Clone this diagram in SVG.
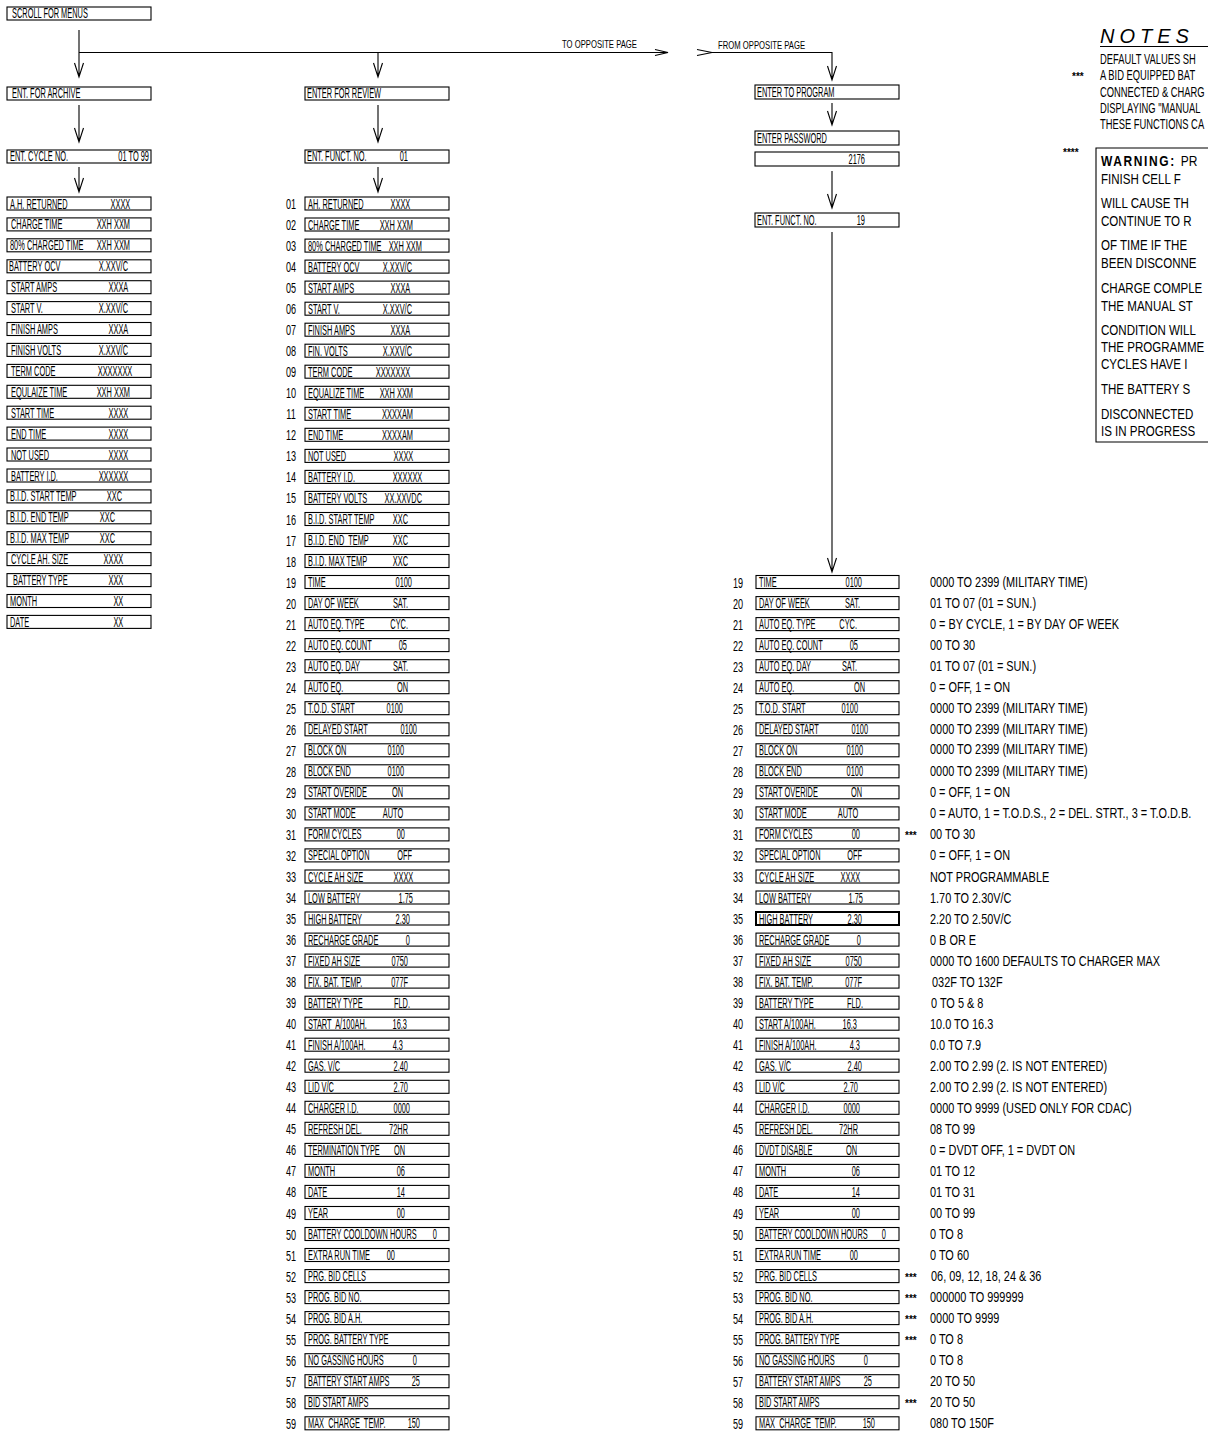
<svg xmlns="http://www.w3.org/2000/svg" width="1208" height="1435" viewBox="0 0 1208 1435">
<style>
.b{fill:none;stroke:#000;stroke-width:1.1}
.b2{fill:none;stroke:#000;stroke-width:2}
.c{fill:none;stroke:#000;stroke-width:1.1}
text{font-family:"Liberation Sans",Arial,sans-serif;fill:#000;white-space:pre;transform-box:fill-box}
.t{font-size:14px;transform:scale(.53,1);transform-origin:0 50%}
.v{font-size:14px;text-anchor:end;transform:scale(.53,1);transform-origin:100% 50%}
.n{font-size:14px;text-anchor:middle;transform:scale(.65,1);transform-origin:50% 50%}
.d{font-size:14px;transform:scale(.78,1);transform-origin:0 50%}
.m{font-size:10px;font-weight:bold}
.s{font-size:11px;transform:scale(.7,1);transform-origin:0 50%}
.nt{font-size:14px;transform:scale(.67,1);transform-origin:0 50%}
.w{font-size:15px;transform:scale(.77,1);transform-origin:0 50%}
.wb{font-size:15px;font-weight:bold;letter-spacing:2px;transform:scale(.8,1);transform-origin:0 50%}
.hd{font-size:20px;font-style:italic;letter-spacing:5px}
</style>
<rect width="1208" height="1435" fill="#fff"/>

<g id="connectors">
<path class="c" d="M79 30V77M74.5 63L79 77L83.5 63"/>
<path class="c" d="M79 52.5H668M655 49.5L668 52.5L655 55.5"/>
<path class="c" d="M378 52.5V77M373.5 63L378 77L382.5 63"/>
<path class="c" d="M79 105V142M74.5 128L79 142L83.5 128"/>
<path class="c" d="M378 105V142M373.5 128L378 142L382.5 128"/>
<path class="c" d="M79 167V192M74.5 178L79 192L83.5 178"/>
<path class="c" d="M378 167V192M373.5 178L378 192L382.5 178"/>
<path class="c" d="M697 49.5L712 52.5L697 55.5M712 52.5H832V80M827.5 66L832 80L836.5 66"/>
<path class="c" d="M832 103V125M827.5 111L832 125L836.5 111"/>
<path class="c" d="M832 171V208M827.5 194L832 208L836.5 194"/>
<path class="c" d="M832 232V572M827.5 558L832 572L836.5 558"/>
</g>

<g id="labels">
<text class="s" x="562" y="48">TO OPPOSITE PAGE</text>
<text class="s" x="718" y="49">FROM OPPOSITE PAGE</text>
</g>

<g id="scroll"><rect class="b" x="7" y="7" width="144" height="13"/><text class="t" x="12" y="18.5">SCROLL FOR MENUS</text></g>
<g id="archive"><rect class="b" x="7" y="87" width="144" height="13"/><text class="t" x="12" y="98.5">ENT. FOR ARCHIVE</text></g>
<g id="cycle"><rect class="b" x="7" y="150" width="144" height="13"/><text class="t" x="10" y="161.5">ENT. CYCLE NO.</text><text class="v" x="149" y="161.5">01 TO 99</text></g>
<g id="review"><rect class="b" x="305" y="87" width="144" height="13"/><text class="t" x="307" y="98.5">ENTER FOR REVIEW</text></g>
<g id="functm"><rect class="b" x="305" y="150" width="144" height="13"/><text class="t" x="307" y="161.5">ENT. FUNCT. NO.</text><text class="v" x="408" y="161.5">01</text></g>
<g id="program"><rect class="b" x="755" y="85" width="144" height="14"/><text class="t" x="757" y="97.5">ENTER TO PROGRAM</text></g>
<g id="password"><rect class="b" x="755" y="131" width="144" height="14"/><text class="t" x="757" y="143.5">ENTER PASSWORD</text></g>
<g id="pwvalue"><rect class="b" x="755" y="152" width="144" height="14"/><text class="v" x="865" y="164.5">2176</text></g>
<g id="functr"><rect class="b" x="755" y="213" width="144" height="14"/><text class="t" x="757" y="225.5">ENT. FUNCT. NO.</text><text class="v" x="865" y="225.5">19</text></g>

<g id="archive-list">
<g id="a01" transform="translate(0,197)"><rect class="b" x="7" width="144" height="13"/><text class="t" x="10" y="11.5">A.H. RETURNED</text><text class="v" x="130" y="11.5">XXXX</text></g>
<g id="a02" transform="translate(0,217.9)"><rect class="b" x="7" width="144" height="13"/><text class="t" x="11" y="11.5">CHARGE TIME</text><text class="v" x="130" y="11.5">XXH XXM</text></g>
<g id="a03" transform="translate(0,238.8)"><rect class="b" x="7" width="144" height="13"/><text class="t" x="10" y="11.5">80% CHARGED TIME</text><text class="v" x="130" y="11.5">XXH XXM</text></g>
<g id="a04" transform="translate(0,259.8)"><rect class="b" x="7" width="144" height="13"/><text class="t" x="9" y="11.5">BATTERY OCV</text><text class="v" x="128" y="11.5">X.XXV/C</text></g>
<g id="a05" transform="translate(0,280.7)"><rect class="b" x="7" width="144" height="13"/><text class="t" x="11" y="11.5">START AMPS</text><text class="v" x="128" y="11.5">XXXA</text></g>
<g id="a06" transform="translate(0,301.6)"><rect class="b" x="7" width="144" height="13"/><text class="t" x="11" y="11.5">START V.</text><text class="v" x="128" y="11.5">X.XXV/C</text></g>
<g id="a07" transform="translate(0,322.5)"><rect class="b" x="7" width="144" height="13"/><text class="t" x="11" y="11.5">FINISH AMPS</text><text class="v" x="128" y="11.5">XXXA</text></g>
<g id="a08" transform="translate(0,343.4)"><rect class="b" x="7" width="144" height="13"/><text class="t" x="11" y="11.5">FINISH VOLTS</text><text class="v" x="128" y="11.5">X.XXV/C</text></g>
<g id="a09" transform="translate(0,364.4)"><rect class="b" x="7" width="144" height="13"/><text class="t" x="11" y="11.5">TERM CODE</text><text class="v" x="132" y="11.5">XXXXXXX</text></g>
<g id="a10" transform="translate(0,385.3)"><rect class="b" x="7" width="144" height="13"/><text class="t" x="11" y="11.5">EQULAIZE TIME</text><text class="v" x="130" y="11.5">XXH XXM</text></g>
<g id="a11" transform="translate(0,406.2)"><rect class="b" x="7" width="144" height="13"/><text class="t" x="11" y="11.5">START TIME</text><text class="v" x="128" y="11.5">XXXX</text></g>
<g id="a12" transform="translate(0,427.1)"><rect class="b" x="7" width="144" height="13"/><text class="t" x="11" y="11.5">END TIME</text><text class="v" x="128" y="11.5">XXXX</text></g>
<g id="a13" transform="translate(0,448)"><rect class="b" x="7" width="144" height="13"/><text class="t" x="11" y="11.5">NOT USED</text><text class="v" x="128" y="11.5">XXXX</text></g>
<g id="a14" transform="translate(0,469)"><rect class="b" x="7" width="144" height="13"/><text class="t" x="11" y="11.5">BATTERY I.D.</text><text class="v" x="128" y="11.5">XXXXXX</text></g>
<g id="a15" transform="translate(0,489.9)"><rect class="b" x="7" width="144" height="13"/><text class="t" x="10" y="11.5">B.I.D. START TEMP</text><text class="v" x="122" y="11.5">XXC</text></g>
<g id="a16" transform="translate(0,510.8)"><rect class="b" x="7" width="144" height="13"/><text class="t" x="10" y="11.5">B.I.D. END TEMP</text><text class="v" x="115" y="11.5">XXC</text></g>
<g id="a17" transform="translate(0,531.7)"><rect class="b" x="7" width="144" height="13"/><text class="t" x="10" y="11.5">B.I.D. MAX TEMP</text><text class="v" x="115" y="11.5">XXC</text></g>
<g id="a18" transform="translate(0,552.6)"><rect class="b" x="7" width="144" height="13"/><text class="t" x="11" y="11.5">CYCLE AH. SIZE</text><text class="v" x="123" y="11.5">XXXX</text></g>
<g id="a19" transform="translate(0,573.6)"><rect class="b" x="7" width="144" height="13"/><text class="t" x="13" y="11.5">BATTERY TYPE</text><text class="v" x="123" y="11.5">XXX</text></g>
<g id="a20" transform="translate(0,594.5)"><rect class="b" x="7" width="144" height="13"/><text class="t" x="10" y="11.5">MONTH</text><text class="v" x="123" y="11.5">XX</text></g>
<g id="a21" transform="translate(0,615.4)"><rect class="b" x="7" width="144" height="13"/><text class="t" x="10" y="11.5">DATE</text><text class="v" x="123" y="11.5">XX</text></g>
</g>

<g id="review-list">
<g id="m01" transform="translate(0,197)"><text class="n" x="291" y="12">01</text><rect class="b" x="305" width="144" height="13"/><text class="t" x="308" y="11.5">AH. RETURNED</text><text class="v" x="410" y="11.5">XXXX</text></g>
<g id="m02" transform="translate(0,218)"><text class="n" x="291" y="12">02</text><rect class="b" x="305" width="144" height="13"/><text class="t" x="308" y="11.5">CHARGE TIME</text><text class="v" x="413" y="11.5">XXH XXM</text></g>
<g id="m03" transform="translate(0,239.1)"><text class="n" x="291" y="12">03</text><rect class="b" x="305" width="144" height="13"/><text class="t" x="308" y="11.5">80% CHARGED TIME</text><text class="v" x="422" y="11.5">XXH XXM</text></g>
<g id="m04" transform="translate(0,260.1)"><text class="n" x="291" y="12">04</text><rect class="b" x="305" width="144" height="13"/><text class="t" x="308" y="11.5">BATTERY OCV</text><text class="v" x="412" y="11.5">X.XXV/C</text></g>
<g id="m05" transform="translate(0,281.1)"><text class="n" x="291" y="12">05</text><rect class="b" x="305" width="144" height="13"/><text class="t" x="308" y="11.5">START AMPS</text><text class="v" x="410" y="11.5">XXXA</text></g>
<g id="m06" transform="translate(0,302.2)"><text class="n" x="291" y="12">06</text><rect class="b" x="305" width="144" height="13"/><text class="t" x="308" y="11.5">START V.</text><text class="v" x="412" y="11.5">X.XXV/C</text></g>
<g id="m07" transform="translate(0,323.2)"><text class="n" x="291" y="12">07</text><rect class="b" x="305" width="144" height="13"/><text class="t" x="308" y="11.5">FINISH AMPS</text><text class="v" x="410" y="11.5">XXXA</text></g>
<g id="m08" transform="translate(0,344.2)"><text class="n" x="291" y="12">08</text><rect class="b" x="305" width="144" height="13"/><text class="t" x="308" y="11.5">FIN. VOLTS</text><text class="v" x="412" y="11.5">X.XXV/C</text></g>
<g id="m09" transform="translate(0,365.2)"><text class="n" x="291" y="12">09</text><rect class="b" x="305" width="144" height="13"/><text class="t" x="308" y="11.5">TERM CODE</text><text class="v" x="410" y="11.5">XXXXXXX</text></g>
<g id="m10" transform="translate(0,386.3)"><text class="n" x="291" y="12">10</text><rect class="b" x="305" width="144" height="13"/><text class="t" x="308" y="11.5">EQUALIZE TIME</text><text class="v" x="413" y="11.5">XXH XXM</text></g>
<g id="m11" transform="translate(0,407.3)"><text class="n" x="291" y="12">11</text><rect class="b" x="305" width="144" height="13"/><text class="t" x="308" y="11.5">START TIME</text><text class="v" x="413" y="11.5">XXXXAM</text></g>
<g id="m12" transform="translate(0,428.3)"><text class="n" x="291" y="12">12</text><rect class="b" x="305" width="144" height="13"/><text class="t" x="308" y="11.5">END TIME</text><text class="v" x="413" y="11.5">XXXXAM</text></g>
<g id="m13" transform="translate(0,449.4)"><text class="n" x="291" y="12">13</text><rect class="b" x="305" width="144" height="13"/><text class="t" x="308" y="11.5">NOT USED</text><text class="v" x="413" y="11.5">XXXX</text></g>
<g id="m14" transform="translate(0,470.4)"><text class="n" x="291" y="12">14</text><rect class="b" x="305" width="144" height="13"/><text class="t" x="308" y="11.5">BATTERY I.D.</text><text class="v" x="422" y="11.5">XXXXXX</text></g>
<g id="m15" transform="translate(0,491.4)"><text class="n" x="291" y="12">15</text><rect class="b" x="305" width="144" height="13"/><text class="t" x="308" y="11.5">BATTERY VOLTS</text><text class="v" x="422" y="11.5">XX.XXVDC</text></g>
<g id="m16" transform="translate(0,512.5)"><text class="n" x="291" y="12">16</text><rect class="b" x="305" width="144" height="13"/><text class="t" x="308" y="11.5">B.I.D. START TEMP</text><text class="v" x="408" y="11.5">XXC</text></g>
<g id="m17" transform="translate(0,533.5)"><text class="n" x="291" y="12">17</text><rect class="b" x="305" width="144" height="13"/><text class="t" x="308" y="11.5">B.I.D. END  TEMP</text><text class="v" x="408" y="11.5">XXC</text></g>
<g id="m18" transform="translate(0,554.5)"><text class="n" x="291" y="12">18</text><rect class="b" x="305" width="144" height="13"/><text class="t" x="308" y="11.5">B.I.D. MAX TEMP</text><text class="v" x="408" y="11.5">XXC</text></g>
<g id="m19" transform="translate(0,575.5)"><text class="n" x="291" y="12">19</text><rect class="b" x="305" width="144" height="13"/><text class="t" x="308" y="11.5">TIME</text><text class="v" x="412" y="11.5">0100</text></g>
<g id="m20" transform="translate(0,596.6)"><text class="n" x="291" y="12">20</text><rect class="b" x="305" width="144" height="13"/><text class="t" x="308" y="11.5">DAY OF WEEK</text><text class="v" x="408" y="11.5">SAT.</text></g>
<g id="m21" transform="translate(0,617.6)"><text class="n" x="291" y="12">21</text><rect class="b" x="305" width="144" height="13"/><text class="t" x="308" y="11.5">AUTO EQ. TYPE</text><text class="v" x="408" y="11.5">CYC.</text></g>
<g id="m22" transform="translate(0,638.6)"><text class="n" x="291" y="12">22</text><rect class="b" x="305" width="144" height="13"/><text class="t" x="308" y="11.5">AUTO EQ. COUNT</text><text class="v" x="407" y="11.5">05</text></g>
<g id="m23" transform="translate(0,659.7)"><text class="n" x="291" y="12">23</text><rect class="b" x="305" width="144" height="13"/><text class="t" x="308" y="11.5">AUTO EQ. DAY</text><text class="v" x="408" y="11.5">SAT.</text></g>
<g id="m24" transform="translate(0,680.7)"><text class="n" x="291" y="12">24</text><rect class="b" x="305" width="144" height="13"/><text class="t" x="308" y="11.5">AUTO EQ.</text><text class="v" x="408" y="11.5">ON</text></g>
<g id="m25" transform="translate(0,701.7)"><text class="n" x="291" y="12">25</text><rect class="b" x="305" width="144" height="13"/><text class="t" x="308" y="11.5">T.O.D. START</text><text class="v" x="403" y="11.5">0100</text></g>
<g id="m26" transform="translate(0,722.8)"><text class="n" x="291" y="12">26</text><rect class="b" x="305" width="144" height="13"/><text class="t" x="308" y="11.5">DELAYED START</text><text class="v" x="417" y="11.5">0100</text></g>
<g id="m27" transform="translate(0,743.8)"><text class="n" x="291" y="12">27</text><rect class="b" x="305" width="144" height="13"/><text class="t" x="308" y="11.5">BLOCK ON</text><text class="v" x="404" y="11.5">0100</text></g>
<g id="m28" transform="translate(0,764.8)"><text class="n" x="291" y="12">28</text><rect class="b" x="305" width="144" height="13"/><text class="t" x="308" y="11.5">BLOCK END</text><text class="v" x="404" y="11.5">0100</text></g>
<g id="m29" transform="translate(0,785.8)"><text class="n" x="291" y="12">29</text><rect class="b" x="305" width="144" height="13"/><text class="t" x="308" y="11.5">START OVERIDE</text><text class="v" x="403" y="11.5">ON</text></g>
<g id="m30" transform="translate(0,806.9)"><text class="n" x="291" y="12">30</text><rect class="b" x="305" width="144" height="13"/><text class="t" x="308" y="11.5">START MODE</text><text class="v" x="403" y="11.5">AUTO</text></g>
<g id="m31" transform="translate(0,827.9)"><text class="n" x="291" y="12">31</text><rect class="b" x="305" width="144" height="13"/><text class="t" x="308" y="11.5">FORM CYCLES</text><text class="v" x="405" y="11.5">00</text></g>
<g id="m32" transform="translate(0,848.9)"><text class="n" x="291" y="12">32</text><rect class="b" x="305" width="144" height="13"/><text class="t" x="308" y="11.5">SPECIAL OPTION</text><text class="v" x="412" y="11.5">OFF</text></g>
<g id="m33" transform="translate(0,870)"><text class="n" x="291" y="12">33</text><rect class="b" x="305" width="144" height="13"/><text class="t" x="308" y="11.5">CYCLE AH SIZE</text><text class="v" x="413" y="11.5">XXXX</text></g>
<g id="m34" transform="translate(0,891)"><text class="n" x="291" y="12">34</text><rect class="b" x="305" width="144" height="13"/><text class="t" x="308" y="11.5">LOW BATTERY</text><text class="v" x="413" y="11.5">1.75</text></g>
<g id="m35" transform="translate(0,912)"><text class="n" x="291" y="12">35</text><rect class="b" x="305" width="144" height="13"/><text class="t" x="308" y="11.5">HIGH BATTERY</text><text class="v" x="410" y="11.5">2.30</text></g>
<g id="m36" transform="translate(0,933.1)"><text class="n" x="291" y="12">36</text><rect class="b" x="305" width="144" height="13"/><text class="t" x="308" y="11.5">RECHARGE GRADE</text><text class="v" x="410" y="11.5">0</text></g>
<g id="m37" transform="translate(0,954.1)"><text class="n" x="291" y="12">37</text><rect class="b" x="305" width="144" height="13"/><text class="t" x="308" y="11.5">FIXED AH SIZE</text><text class="v" x="408" y="11.5">0750</text></g>
<g id="m38" transform="translate(0,975.1)"><text class="n" x="291" y="12">38</text><rect class="b" x="305" width="144" height="13"/><text class="t" x="308" y="11.5">FIX. BAT. TEMP.</text><text class="v" x="408" y="11.5">077F</text></g>
<g id="m39" transform="translate(0,996.2)"><text class="n" x="291" y="12">39</text><rect class="b" x="305" width="144" height="13"/><text class="t" x="308" y="11.5">BATTERY TYPE</text><text class="v" x="410" y="11.5">FLD.</text></g>
<g id="m40" transform="translate(0,1017.2)"><text class="n" x="291" y="12">40</text><rect class="b" x="305" width="144" height="13"/><text class="t" x="308" y="11.5">START  A/100AH.</text><text class="v" x="407" y="11.5">16.3</text></g>
<g id="m41" transform="translate(0,1038.2)"><text class="n" x="291" y="12">41</text><rect class="b" x="305" width="144" height="13"/><text class="t" x="308" y="11.5">FINISH A/100AH.</text><text class="v" x="403" y="11.5">4.3</text></g>
<g id="m42" transform="translate(0,1059.2)"><text class="n" x="291" y="12">42</text><rect class="b" x="305" width="144" height="13"/><text class="t" x="308" y="11.5">GAS. V/C</text><text class="v" x="408" y="11.5">2.40</text></g>
<g id="m43" transform="translate(0,1080.3)"><text class="n" x="291" y="12">43</text><rect class="b" x="305" width="144" height="13"/><text class="t" x="308" y="11.5">LID V/C</text><text class="v" x="408" y="11.5">2.70</text></g>
<g id="m44" transform="translate(0,1101.3)"><text class="n" x="291" y="12">44</text><rect class="b" x="305" width="144" height="13"/><text class="t" x="308" y="11.5">CHARGER I.D.</text><text class="v" x="410" y="11.5">0000</text></g>
<g id="m45" transform="translate(0,1122.3)"><text class="n" x="291" y="12">45</text><rect class="b" x="305" width="144" height="13"/><text class="t" x="308" y="11.5">REFRESH DEL.</text><text class="v" x="408" y="11.5">72HR</text></g>
<g id="m46" transform="translate(0,1143.4)"><text class="n" x="291" y="12">46</text><rect class="b" x="305" width="144" height="13"/><text class="t" x="308" y="11.5">TERMINATION TYPE</text><text class="v" x="405" y="11.5">ON</text></g>
<g id="m47" transform="translate(0,1164.4)"><text class="n" x="291" y="12">47</text><rect class="b" x="305" width="144" height="13"/><text class="t" x="308" y="11.5">MONTH</text><text class="v" x="405" y="11.5">06</text></g>
<g id="m48" transform="translate(0,1185.4)"><text class="n" x="291" y="12">48</text><rect class="b" x="305" width="144" height="13"/><text class="t" x="308" y="11.5">DATE</text><text class="v" x="405" y="11.5">14</text></g>
<g id="m49" transform="translate(0,1206.5)"><text class="n" x="291" y="12">49</text><rect class="b" x="305" width="144" height="13"/><text class="t" x="308" y="11.5">YEAR</text><text class="v" x="405" y="11.5">00</text></g>
<g id="m50" transform="translate(0,1227.5)"><text class="n" x="291" y="12">50</text><rect class="b" x="305" width="144" height="13"/><text class="t" x="308" y="11.5">BATTERY COOLDOWN HOURS</text><text class="v" x="437" y="11.5">0</text></g>
<g id="m51" transform="translate(0,1248.5)"><text class="n" x="291" y="12">51</text><rect class="b" x="305" width="144" height="13"/><text class="t" x="308" y="11.5">EXTRA RUN TIME</text><text class="v" x="395" y="11.5">00</text></g>
<g id="m52" transform="translate(0,1269.6)"><text class="n" x="291" y="12">52</text><rect class="b" x="305" width="144" height="13"/><text class="t" x="308" y="11.5">PRG. BID CELLS</text></g>
<g id="m53" transform="translate(0,1290.6)"><text class="n" x="291" y="12">53</text><rect class="b" x="305" width="144" height="13"/><text class="t" x="308" y="11.5">PROG. BID NO.</text></g>
<g id="m54" transform="translate(0,1311.6)"><text class="n" x="291" y="12">54</text><rect class="b" x="305" width="144" height="13"/><text class="t" x="308" y="11.5">PROG. BID A.H.</text></g>
<g id="m55" transform="translate(0,1332.6)"><text class="n" x="291" y="12">55</text><rect class="b" x="305" width="144" height="13"/><text class="t" x="308" y="11.5">PROG. BATTERY TYPE</text></g>
<g id="m56" transform="translate(0,1353.7)"><text class="n" x="291" y="12">56</text><rect class="b" x="305" width="144" height="13"/><text class="t" x="308" y="11.5">NO GASSING HOURS</text><text class="v" x="417" y="11.5">0</text></g>
<g id="m57" transform="translate(0,1374.7)"><text class="n" x="291" y="12">57</text><rect class="b" x="305" width="144" height="13"/><text class="t" x="308" y="11.5">BATTERY START AMPS</text><text class="v" x="420" y="11.5">25</text></g>
<g id="m58" transform="translate(0,1395.7)"><text class="n" x="291" y="12">58</text><rect class="b" x="305" width="144" height="13"/><text class="t" x="308" y="11.5">BID START AMPS</text></g>
<g id="m59" transform="translate(0,1416.8)"><text class="n" x="291" y="12">59</text><rect class="b" x="305" width="144" height="13"/><text class="t" x="308" y="11.5">MAX  CHARGE  TEMP.</text><text class="v" x="420" y="11.5">150</text></g>
</g>

<g id="program-list">
<g id="r19" transform="translate(0,575.5)"><text class="n" x="738" y="12">19</text><rect class="b" x="756" width="143" height="13"/><text class="t" x="759" y="11.5">TIME</text><text class="v" x="862" y="11.5">0100</text><text class="d" x="930" y="11.5">0000 TO 2399 (MILITARY TIME)</text></g>
<g id="r20" transform="translate(0,596.6)"><text class="n" x="738" y="12">20</text><rect class="b" x="756" width="143" height="13"/><text class="t" x="759" y="11.5">DAY OF WEEK</text><text class="v" x="860" y="11.5">SAT.</text><text class="d" x="930" y="11.5">01 TO 07 (01 = SUN.)</text></g>
<g id="r21" transform="translate(0,617.6)"><text class="n" x="738" y="12">21</text><rect class="b" x="756" width="143" height="13"/><text class="t" x="759" y="11.5">AUTO EQ. TYPE</text><text class="v" x="857" y="11.5">CYC.</text><text class="d" x="930" y="11.5">0 = BY CYCLE, 1 = BY DAY OF WEEK</text></g>
<g id="r22" transform="translate(0,638.6)"><text class="n" x="738" y="12">22</text><rect class="b" x="756" width="143" height="13"/><text class="t" x="759" y="11.5">AUTO EQ. COUNT</text><text class="v" x="858" y="11.5">05</text><text class="d" x="930" y="11.5">00 TO 30</text></g>
<g id="r23" transform="translate(0,659.7)"><text class="n" x="738" y="12">23</text><rect class="b" x="756" width="143" height="13"/><text class="t" x="759" y="11.5">AUTO EQ. DAY</text><text class="v" x="857" y="11.5">SAT.</text><text class="d" x="930" y="11.5">01 TO 07 (01 = SUN.)</text></g>
<g id="r24" transform="translate(0,680.7)"><text class="n" x="738" y="12">24</text><rect class="b" x="756" width="143" height="13"/><text class="t" x="759" y="11.5">AUTO EQ.</text><text class="v" x="865" y="11.5">ON</text><text class="d" x="930" y="11.5">0 = OFF, 1 = ON</text></g>
<g id="r25" transform="translate(0,701.7)"><text class="n" x="738" y="12">25</text><rect class="b" x="756" width="143" height="13"/><text class="t" x="759" y="11.5">T.O.D. START</text><text class="v" x="858" y="11.5">0100</text><text class="d" x="930" y="11.5">0000 TO 2399 (MILITARY TIME)</text></g>
<g id="r26" transform="translate(0,722.8)"><text class="n" x="738" y="12">26</text><rect class="b" x="756" width="143" height="13"/><text class="t" x="759" y="11.5">DELAYED START</text><text class="v" x="868" y="11.5">0100</text><text class="d" x="930" y="11.5">0000 TO 2399 (MILITARY TIME)</text></g>
<g id="r27" transform="translate(0,743.8)"><text class="n" x="738" y="12">27</text><rect class="b" x="756" width="143" height="13"/><text class="t" x="759" y="11.5">BLOCK ON</text><text class="v" x="863" y="11.5">0100</text><text class="d" x="930" y="10">0000 TO 2399 (MILITARY TIME)</text></g>
<g id="r28" transform="translate(0,764.8)"><text class="n" x="738" y="12">28</text><rect class="b" x="756" width="143" height="13"/><text class="t" x="759" y="11.5">BLOCK END</text><text class="v" x="863" y="11.5">0100</text><text class="d" x="930" y="11.5">0000 TO 2399 (MILITARY TIME)</text></g>
<g id="r29" transform="translate(0,785.8)"><text class="n" x="738" y="12">29</text><rect class="b" x="756" width="143" height="13"/><text class="t" x="759" y="11.5">START OVERIDE</text><text class="v" x="862" y="11.5">ON</text><text class="d" x="930" y="11.5">0 = OFF, 1 = ON</text></g>
<g id="r30" transform="translate(0,806.9)"><text class="n" x="738" y="12">30</text><rect class="b" x="756" width="143" height="13"/><text class="t" x="759" y="11.5">START MODE</text><text class="v" x="858" y="11.5">AUTO</text><text class="d" x="930" y="11.5">0 = AUTO, 1 = T.O.D.S., 2 = DEL. STRT., 3 = T.O.D.B.</text></g>
<g id="r31" transform="translate(0,827.9)"><text class="n" x="738" y="12">31</text><rect class="b" x="756" width="143" height="13"/><text class="t" x="759" y="11.5">FORM CYCLES</text><text class="v" x="860" y="11.5">00</text><text class="m" x="905" y="11">***</text><text class="d" x="930" y="11.5">00 TO 30</text></g>
<g id="r32" transform="translate(0,848.9)"><text class="n" x="738" y="12">32</text><rect class="b" x="756" width="143" height="13"/><text class="t" x="759" y="11.5">SPECIAL OPTION</text><text class="v" x="862" y="11.5">OFF</text><text class="d" x="930" y="11.5">0 = OFF, 1 = ON</text></g>
<g id="r33" transform="translate(0,870)"><text class="n" x="738" y="12">33</text><rect class="b" x="756" width="143" height="13"/><text class="t" x="759" y="11.5">CYCLE AH SIZE</text><text class="v" x="860" y="11.5">XXXX</text><text class="d" x="930" y="11.5">NOT PROGRAMMABLE</text></g>
<g id="r34" transform="translate(0,891)"><text class="n" x="738" y="12">34</text><rect class="b" x="756" width="143" height="13"/><text class="t" x="759" y="11.5">LOW BATTERY</text><text class="v" x="863" y="11.5">1.75</text><text class="d" x="930" y="11.5">1.70 TO 2.30V/C</text></g>
<g id="r35" transform="translate(0,912)"><text class="n" x="738" y="12">35</text><rect class="b2" x="756" width="143" height="13"/><text class="t" x="759" y="11.5">HIGH BATTERY</text><text class="v" x="862" y="11.5">2.30</text><text class="d" x="930" y="11.5">2.20 TO 2.50V/C</text></g>
<g id="r36" transform="translate(0,933.1)"><text class="n" x="738" y="12">36</text><rect class="b" x="756" width="143" height="13"/><text class="t" x="759" y="11.5">RECHARGE GRADE</text><text class="v" x="861" y="11.5">0</text><text class="d" x="930" y="11.5">0 B OR E</text></g>
<g id="r37" transform="translate(0,954.1)"><text class="n" x="738" y="12">37</text><rect class="b" x="756" width="143" height="13"/><text class="t" x="759" y="11.5">FIXED AH SIZE</text><text class="v" x="862" y="11.5">0750</text><text class="d" x="930" y="11.5">0000 TO 1600 DEFAULTS TO CHARGER MAX</text></g>
<g id="r38" transform="translate(0,975.1)"><text class="n" x="738" y="12">38</text><rect class="b" x="756" width="143" height="13"/><text class="t" x="759" y="11.5">FIX. BAT. TEMP.</text><text class="v" x="862" y="11.5">077F</text><text class="d" x="932" y="11.5">032F TO 132F</text></g>
<g id="r39" transform="translate(0,996.2)"><text class="n" x="738" y="12">39</text><rect class="b" x="756" width="143" height="13"/><text class="t" x="759" y="11.5">BATTERY TYPE</text><text class="v" x="863" y="11.5">FLD.</text><text class="d" x="931" y="11.5">0 TO 5 &amp; 8</text></g>
<g id="r40" transform="translate(0,1017.2)"><text class="n" x="738" y="12">40</text><rect class="b" x="756" width="143" height="13"/><text class="t" x="759" y="11.5">START A/100AH.</text><text class="v" x="857" y="11.5">16.3</text><text class="d" x="930" y="11.5">10.0 TO 16.3</text></g>
<g id="r41" transform="translate(0,1038.2)"><text class="n" x="738" y="12">41</text><rect class="b" x="756" width="143" height="13"/><text class="t" x="759" y="11.5">FINISH A/100AH.</text><text class="v" x="860" y="11.5">4.3</text><text class="d" x="930" y="11.5">0.0 TO 7.9</text></g>
<g id="r42" transform="translate(0,1059.2)"><text class="n" x="738" y="12">42</text><rect class="b" x="756" width="143" height="13"/><text class="t" x="759" y="11.5">GAS. V/C</text><text class="v" x="862" y="11.5">2.40</text><text class="d" x="930" y="11.5">2.00 TO 2.99 (2. IS NOT ENTERED)</text></g>
<g id="r43" transform="translate(0,1080.3)"><text class="n" x="738" y="12">43</text><rect class="b" x="756" width="143" height="13"/><text class="t" x="759" y="11.5">LID V/C</text><text class="v" x="858" y="11.5">2.70</text><text class="d" x="930" y="11.5">2.00 TO 2.99 (2. IS NOT ENTERED)</text></g>
<g id="r44" transform="translate(0,1101.3)"><text class="n" x="738" y="12">44</text><rect class="b" x="756" width="143" height="13"/><text class="t" x="759" y="11.5">CHARGER I.D.</text><text class="v" x="860" y="11.5">0000</text><text class="d" x="930" y="11.5">0000 TO 9999 (USED ONLY FOR CDAC)</text></g>
<g id="r45" transform="translate(0,1122.3)"><text class="n" x="738" y="12">45</text><rect class="b" x="756" width="143" height="13"/><text class="t" x="759" y="11.5">REFRESH DEL.</text><text class="v" x="858" y="11.5">72HR</text><text class="d" x="930" y="11.5">08 TO 99</text></g>
<g id="r46" transform="translate(0,1143.4)"><text class="n" x="738" y="12">46</text><rect class="b" x="756" width="143" height="13"/><text class="t" x="759" y="11.5">DVDT DISABLE</text><text class="v" x="857" y="11.5">ON</text><text class="d" x="930" y="11.5">0 = DVDT OFF, 1 = DVDT ON</text></g>
<g id="r47" transform="translate(0,1164.4)"><text class="n" x="738" y="12">47</text><rect class="b" x="756" width="143" height="13"/><text class="t" x="759" y="11.5">MONTH</text><text class="v" x="860" y="11.5">06</text><text class="d" x="930" y="11.5">01 TO 12</text></g>
<g id="r48" transform="translate(0,1185.4)"><text class="n" x="738" y="12">48</text><rect class="b" x="756" width="143" height="13"/><text class="t" x="759" y="11.5">DATE</text><text class="v" x="860" y="11.5">14</text><text class="d" x="930" y="11.5">01 TO 31</text></g>
<g id="r49" transform="translate(0,1206.5)"><text class="n" x="738" y="12">49</text><rect class="b" x="756" width="143" height="13"/><text class="t" x="759" y="11.5">YEAR</text><text class="v" x="860" y="11.5">00</text><text class="d" x="930" y="11.5">00 TO 99</text></g>
<g id="r50" transform="translate(0,1227.5)"><text class="n" x="738" y="12">50</text><rect class="b" x="756" width="143" height="13"/><text class="t" x="759" y="11.5">BATTERY COOLDOWN HOURS</text><text class="v" x="886" y="11.5">0</text><text class="d" x="930" y="11.5">0 TO 8</text></g>
<g id="r51" transform="translate(0,1248.5)"><text class="n" x="738" y="12">51</text><rect class="b" x="756" width="143" height="13"/><text class="t" x="759" y="11.5">EXTRA RUN TIME</text><text class="v" x="858" y="11.5">00</text><text class="d" x="930" y="11.5">0 TO 60</text></g>
<g id="r52" transform="translate(0,1269.6)"><text class="n" x="738" y="12">52</text><rect class="b" x="756" width="143" height="13"/><text class="t" x="759" y="11.5">PRG. BID CELLS</text><text class="m" x="905" y="11">***</text><text class="d" x="931" y="11.5">06, 09, 12, 18, 24 &amp; 36</text></g>
<g id="r53" transform="translate(0,1290.6)"><text class="n" x="738" y="12">53</text><rect class="b" x="756" width="143" height="13"/><text class="t" x="759" y="11.5">PROG. BID NO.</text><text class="m" x="905" y="11">***</text><text class="d" x="930" y="11.5">000000 TO 999999</text></g>
<g id="r54" transform="translate(0,1311.6)"><text class="n" x="738" y="12">54</text><rect class="b" x="756" width="143" height="13"/><text class="t" x="759" y="11.5">PROG. BID A.H.</text><text class="m" x="905" y="11">***</text><text class="d" x="930" y="11.5">0000 TO 9999</text></g>
<g id="r55" transform="translate(0,1332.6)"><text class="n" x="738" y="12">55</text><rect class="b" x="756" width="143" height="13"/><text class="t" x="759" y="11.5">PROG. BATTERY TYPE</text><text class="m" x="905" y="11">***</text><text class="d" x="930" y="11.5">0 TO 8</text></g>
<g id="r56" transform="translate(0,1353.7)"><text class="n" x="738" y="12">56</text><rect class="b" x="756" width="143" height="13"/><text class="t" x="759" y="11.5">NO GASSING HOURS</text><text class="v" x="868" y="11.5">0</text><text class="d" x="930" y="11.5">0 TO 8</text></g>
<g id="r57" transform="translate(0,1374.7)"><text class="n" x="738" y="12">57</text><rect class="b" x="756" width="143" height="13"/><text class="t" x="759" y="11.5">BATTERY START AMPS</text><text class="v" x="872" y="11.5">25</text><text class="d" x="930" y="11.5">20 TO 50</text></g>
<g id="r58" transform="translate(0,1395.7)"><text class="n" x="738" y="12">58</text><rect class="b" x="756" width="143" height="13"/><text class="t" x="759" y="11.5">BID START AMPS</text><text class="m" x="905" y="11">***</text><text class="d" x="930" y="11.5">20 TO 50</text></g>
<g id="r59" transform="translate(0,1416.8)"><text class="n" x="738" y="12">59</text><rect class="b" x="756" width="143" height="13"/><text class="t" x="759" y="11.5">MAX  CHARGE  TEMP.</text><text class="v" x="875" y="11.5">150</text><text class="d" x="930" y="11.5">080 TO 150F</text></g>
</g>

<g id="notes">
<text class="hd" x="1100" y="43">NOTES</text>
<line class="c" x1="1100" y1="46.5" x2="1208" y2="46.5"/>
<text class="nt" x="1100" y="64">DEFAULT VALUES SH</text>
<text class="m" x="1072" y="80">***</text>
<text class="nt" x="1100" y="80">A BID EQUIPPED BAT</text>
<text class="nt" x="1100" y="97">CONNECTED &amp; CHARG</text>
<text class="nt" x="1100" y="113">DISPLAYING "MANUAL</text>
<text class="nt" x="1100" y="129">THESE FUNCTIONS CA</text>
</g>

<g id="warning">
<text class="m" x="1063" y="156">****</text>
<path class="c" d="M1215 148H1096V442H1215"/>
<text class="wb" x="1101" y="166">WARNING: <tspan font-weight="normal" letter-spacing="0">PR</tspan></text>
<text class="w" x="1101" y="184">FINISH CELL F</text>
<text class="w" x="1101" y="208">WILL CAUSE TH</text>
<text class="w" x="1101" y="226">CONTINUE TO R</text>
<text class="w" x="1101" y="250">OF TIME IF THE</text>
<text class="w" x="1101" y="268">BEEN DISCONNE</text>
<text class="w" x="1101" y="293">CHARGE COMPLE</text>
<text class="w" x="1101" y="311">THE MANUAL ST</text>
<text class="w" x="1101" y="335">CONDITION WILL</text>
<text class="w" x="1101" y="352">THE PROGRAMME</text>
<text class="w" x="1101" y="369">CYCLES HAVE I</text>
<text class="w" x="1101" y="394">THE BATTERY S</text>
<text class="w" x="1101" y="419">DISCONNECTED</text>
<text class="w" x="1101" y="436">IS IN PROGRESS</text>
</g>
</svg>
